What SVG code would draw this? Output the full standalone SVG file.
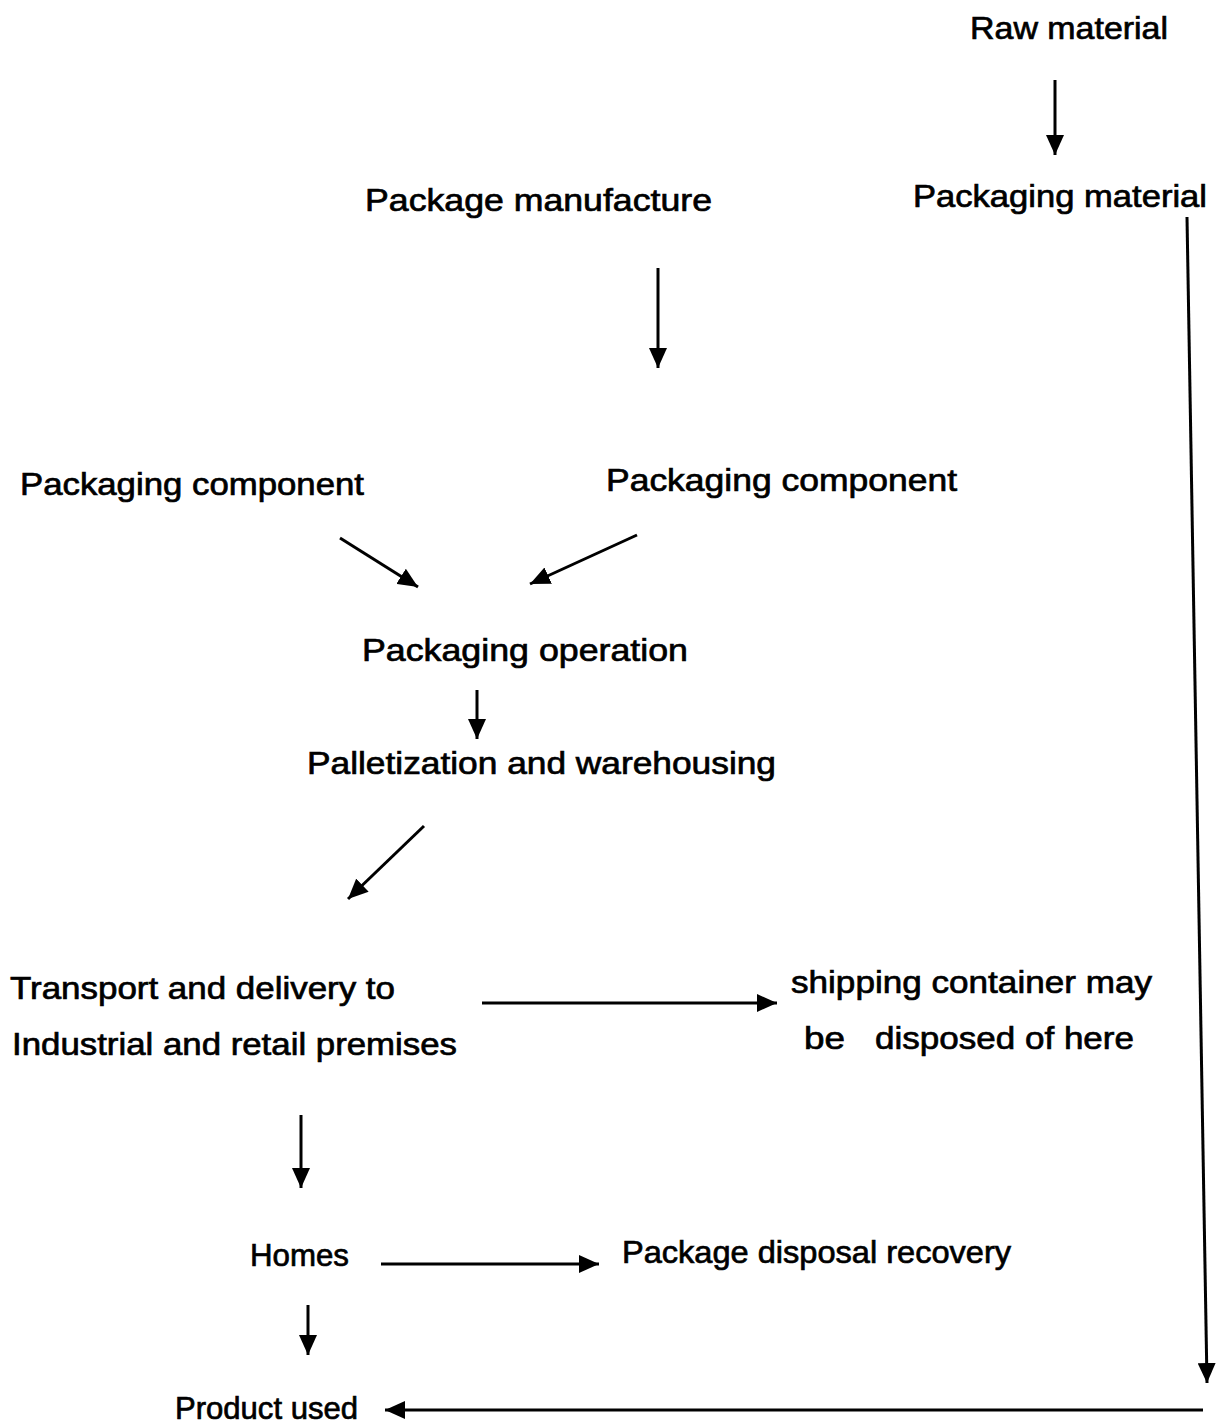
<svg xmlns="http://www.w3.org/2000/svg" width="1217" height="1425" viewBox="0 0 1217 1425">
<style>
text{font-family:"Liberation Sans",Arial,sans-serif;font-size:32px;fill:#000;stroke:#000;stroke-width:0.7}
.c line{stroke:#000;stroke-width:3;marker-end:url(#ah)}
</style>
<defs>
<marker id="ah" markerUnits="userSpaceOnUse" markerWidth="22" markerHeight="18" refX="20" refY="9" orient="auto">
<path d="M0,0 L20,9 L0,18 Z" fill="#000"/>
</marker>
</defs>
<rect width="1217" height="1425" fill="#fff"/>
<g id="raw"><text x="970" y="39" textLength="198" lengthAdjust="spacingAndGlyphs">Raw material</text></g>
<g id="pkgmat"><text x="913" y="207" textLength="294" lengthAdjust="spacingAndGlyphs">Packaging material</text></g>
<g id="pkgman"><text x="365" y="211" textLength="347" lengthAdjust="spacingAndGlyphs">Package manufacture</text></g>
<g id="compL"><text x="20" y="495" textLength="344" lengthAdjust="spacingAndGlyphs">Packaging component</text></g>
<g id="compR"><text x="606" y="491" textLength="351" lengthAdjust="spacingAndGlyphs">Packaging component</text></g>
<g id="op"><text x="362" y="661" textLength="326" lengthAdjust="spacingAndGlyphs">Packaging operation</text></g>
<g id="pallet"><text x="307" y="774" textLength="469" lengthAdjust="spacingAndGlyphs">Palletization and warehousing</text></g>
<g id="transport"><text x="10" y="999" textLength="385" lengthAdjust="spacingAndGlyphs">Transport and delivery to</text><text x="12" y="1055" textLength="445" lengthAdjust="spacingAndGlyphs">Industrial and retail premises</text></g>
<g id="shipping"><text x="791" y="993" textLength="361" lengthAdjust="spacingAndGlyphs">shipping container may</text><text x="804" y="1049" textLength="41" lengthAdjust="spacingAndGlyphs">be</text><text x="875" y="1049" textLength="259" lengthAdjust="spacingAndGlyphs">disposed of here</text></g>
<g id="homes"><text x="250" y="1266" textLength="99" lengthAdjust="spacingAndGlyphs">Homes</text></g>
<g id="disposal"><text x="622" y="1263" textLength="389" lengthAdjust="spacingAndGlyphs">Package disposal recovery</text></g>
<g id="used"><text x="175" y="1419" textLength="183" lengthAdjust="spacingAndGlyphs">Product used</text></g>
<g class="c" id="connectors">
<line x1="1055" y1="80" x2="1055" y2="155"/>
<line x1="658" y1="268" x2="658" y2="368"/>
<line x1="340" y1="538" x2="418" y2="587"/>
<line x1="637" y1="535" x2="530" y2="584"/>
<line x1="477" y1="690" x2="477" y2="739"/>
<line x1="424" y1="826" x2="348" y2="899"/>
<line x1="482" y1="1003" x2="777" y2="1003"/>
<line x1="301" y1="1115" x2="301" y2="1188"/>
<line x1="381" y1="1264" x2="599" y2="1264"/>
<line x1="308" y1="1305" x2="308" y2="1355"/>
<line x1="1187" y1="217" x2="1207" y2="1383"/>
<line x1="1203" y1="1410" x2="385" y2="1410"/>
</g>
</svg>
